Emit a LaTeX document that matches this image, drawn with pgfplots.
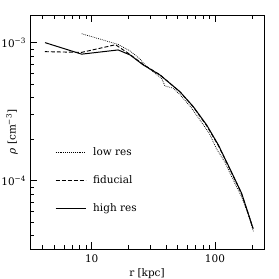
\documentclass[border=0pt]{standalone}
\usepackage{fontspec}
\setmainfont{DejaVu Serif}
\usepackage{pgfplots}
\pgfplotsset{compat=1.18}
\begin{document}
\begin{tikzpicture}[font=\fontsize{10.5}{12.6}\selectfont]
\begin{axis}[
  at={(0,0)}, anchor=south west,
  scale only axis, width=234bp, height=234bp,
  xmode=log, ymode=log,
  xmin=3.16, xmax=250, ymin=3.2e-5, ymax=1.585e-3,
  xtick={10,100}, xticklabels={10,100},
  minor xtick={4,5,6,7,8,9,20,30,40,50,60,70,80,90,200},
  ytick={1e-4,1e-3}, yticklabels={10\textsuperscript{−4},10\textsuperscript{−3}},
  minor ytick={4e-5,5e-5,6e-5,7e-5,8e-5,9e-5,2e-4,3e-4,4e-4,5e-4,6e-4,7e-4,8e-4,9e-4},
  tick align=inside, xtick pos=both, ytick pos=left,
  major tick length=7bp, minor tick length=4bp,
  every tick/.style={black, line width=0.7bp},
  axis line style={line width=0.8bp},
  tick label style={font=\fontsize{10.5}{12.6}\selectfont},
  label style={font=\fontsize{10.5}{12.6}\selectfont},
  xticklabel style={yshift=-2bp},
  yticklabel style={xshift=-0.5bp},
  xlabel={r [kpc]}, ylabel={{\itshape ρ} [cm\textsuperscript{−3}]},
  xlabel style={at={(axis description cs:0.5,-0.105)}, anchor=center},
  ylabel style={at={(axis description cs:-0.077,0.5)}, anchor=center},
  legend style={draw=none, fill=none, at={(0.107,0.443)}, anchor=north west, inner sep=0pt, row sep=14.5bp, font=\fontsize{10.5}{12.6}\selectfont},
  legend cell align=left,
  legend image code/.code={\draw[#1] (0bp,0bp) -- (30bp,0bp);},
  /tikz/every odd column/.append style={column sep=5bp},
]
\addplot[black, line width=0.7bp, dash pattern=on 0.8bp off 1.1bp] coordinates {
(8.3,1.16e-3) (16.4,9.7e-4) (20.5,8.7e-4) (24.7,7.6e-4) (27.5,6.8e-4) (33,5.95e-4)
(37,5.5e-4) (39.3,4.85e-4) (45.9,4.68e-4) (52,4.2e-4) (64,3.4e-4) (75.6,2.75e-4)
(90,2.2e-4) (103,1.7e-4) (120,1.37e-4) (136,1.08e-4) (150,9.0e-5) (165,7.6e-5) (185,5.8e-5) (205,4.3e-5)
};
\addlegendentry{low res}
\addplot[black, line width=0.9bp, dash pattern=on 4bp off 2bp] coordinates {
(4.18,8.6e-4) (8.3,8.5e-4) (15.6,9.65e-4) (20.5,8.2e-4) (26.2,6.95e-4) (35.8,5.85e-4)
(52,4.4e-4) (66.7,3.42e-4) (85.7,2.5e-4) (106.4,1.8e-4) (136.5,1.14e-4) (164.7,8.0e-5) (204,4.5e-5)
};
\addlegendentry{fiducial}
\addplot[black, line width=1bp] coordinates {
(4.18,1.0e-3) (8.3,8.25e-4) (16.4,8.85e-4) (20.5,8.14e-4) (26.2,6.89e-4) (35.8,5.83e-4)
(52,4.41e-4) (66.7,3.44e-4) (85.7,2.53e-4) (106.4,1.82e-4) (136.5,1.15e-4) (164.7,8.1e-5) (204,4.5e-5)
};
\addlegendentry{high res}
\end{axis}
\pgfresetboundingbox
\path (-30bp,-30bp) rectangle (249bp,249bp);
\end{tikzpicture}
\end{document}
